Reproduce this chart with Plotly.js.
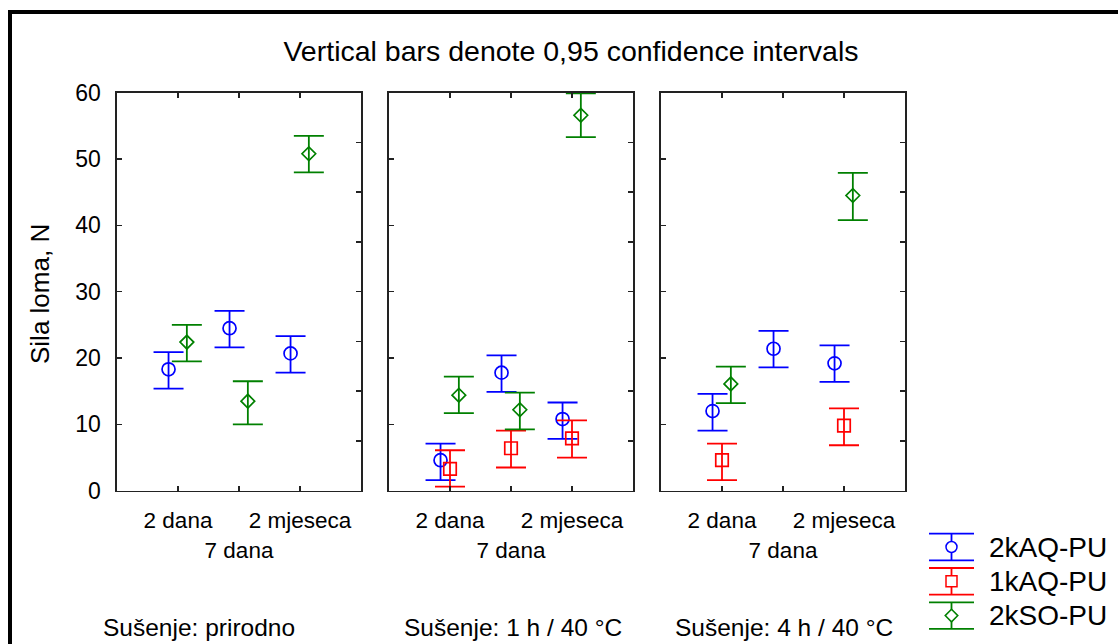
<!DOCTYPE html>
<html>
<head>
<meta charset="utf-8">
<script src="https://cdn.plot.ly/plotly-3.0.1.min.js"></script>
<style>html,body{margin:0;padding:0;background:#fff;}#chart{width:1118px;height:644px;}</style>
</head>
<body>
<div id="chart"></div>
<script>
// ---- data ----
const categories = ['2 dana', '7 dana', '2 mjeseca'];
const categoryTickText = ['2 dana', '<br>7 dana', '2 mjeseca'];
const panels = ['Sušenje: prirodno', 'Sušenje: 1 h / 40 °C', 'Sušenje: 4 h / 40 °C'];
const seriesNames = ['2kAQ-PU', '1kAQ-PU', '2kSO-PU'];
const yTicks = [0, 10, 20, 30, 40, 50, 60];

// values ordered panel by panel: [prirodno x3, 1h/40 x3, 4h/40 x3]
const aq2Mean = [18.3, 24.5, 20.7, 4.6, 17.8, 10.8, 12.0, 21.4, 19.2];
const aq2Low  = [15.4, 21.6, 17.8, 1.6, 14.9, 7.8, 9.05, 18.6, 16.4];
const aq2High = [20.9, 27.1, 23.3, 7.1, 20.4, 13.3, 14.6, 24.1, 21.9];

const aq1Mean = [null, null, null, 3.3, 6.4, 7.9, 4.6, null, 9.8];
const aq1Low  = [null, null, null, 0.6, 3.5, 5.0, 1.6, null, 6.85];
const aq1High = [null, null, null, 6.1, 9.05, 10.6, 7.1, null, 12.4];

const soMean = [22.4, 13.5, 50.8, 14.4, 12.2, 56.6, 16.1, null, 44.5];
const soLow  = [19.5, 10.0, 48.0, 11.7, 9.25, 53.3, 13.2, null, 40.8];
const soHigh = [25.0, 16.5, 53.5, 17.2, 14.8, 59.9, 18.7, null, 47.9];

// ---- styling ----
const W = 1118, H = 644;
const px = x => x / W;
const py = y => 1 - y / H;
const FONT = '"Liberation Sans", Arial, sans-serif';
const colors = ['rgb(0,0,255)', 'rgb(255,0,0)', 'rgb(0,128,0)'];
const symbols = ['circle-open', 'square-open', 'diamond-open'];
const msizes = [13, 12.5, 10.5];
const offsets = [-0.155, 0, 0.145];
const seriesData = [
  [aq2Mean, aq2Low, aq2High],
  [aq1Mean, aq1Low, aq1High],
  [soMean, soLow, soHigh]
];
const panelPx = [[117, 361], [389, 633], [661, 905]];
const yDom = [py(490.7), py(92.7)];

const traces = [];
panels.forEach((pname, p) => {
  const xa = 'x' + (p ? p + 1 : '');
  const ya = 'y' + (p ? p + 1 : '');
  seriesData.forEach((sd, s) => {
    const m = sd[0].slice(3 * p, 3 * p + 3);
    const lo = sd[1].slice(3 * p, 3 * p + 3);
    const hi = sd[2].slice(3 * p, 3 * p + 3);
    traces.push({
      type: 'scatter', mode: 'markers',
      name: seriesNames[s], showlegend: false,
      x: categories.map((c, i) => i + 1 + offsets[s]),
      y: m,
      xaxis: xa, yaxis: ya,
      marker: { symbol: symbols[s], size: msizes[s], color: colors[s], line: { color: colors[s], width: 1.7 } },
      error_y: {
        type: 'data', symmetric: false,
        array: m.map((v, i) => v == null ? null : hi[i] - v),
        arrayminus: m.map((v, i) => v == null ? null : v - lo[i]),
        color: colors[s], thickness: 1.8, width: 15
      },
      hovertemplate: seriesNames[s] + ' %{y}<extra></extra>'
    });
  });
  // carrier for right-side tick axis
  traces.push({ type: 'scatter', x: [], y: [], xaxis: xa, yaxis: 'y' + (p + 4), showlegend: false, hoverinfo: 'skip' });
});

const layout = {
  width: W, height: H,
  margin: { l: 0, r: 0, t: 0, b: 0 },
  paper_bgcolor: '#fff', plot_bgcolor: '#fff',
  font: { family: FONT, color: '#000', size: 22 },
  showlegend: false,
  title: { text: 'Vertical bars denote 0,95 confidence intervals', font: { size: 28.5, family: FONT, color: '#000' },
           x: px(571), xanchor: 'center', y: py(51), yanchor: 'middle', xref: 'paper', yref: 'paper' },
  annotations: [],
  shapes: []
};

panels.forEach((pname, p) => {
  const k = p ? p + 1 : '';
  layout['xaxis' + k] = {
    domain: [px(panelPx[p][0]), px(panelPx[p][1])],
    anchor: 'y' + k,
    range: [0, 4], tickmode: 'array', tickvals: [1, 2, 3], ticktext: categoryTickText,
    tickangle: 0,
    ticks: 'inside', ticklen: 5, tickwidth: 1.5, tickcolor: '#222',
    showline: true, linecolor: '#222', linewidth: 1.6, mirror: 'ticks',
    showgrid: false, zeroline: false, fixedrange: true,
    tickfont: { size: 22.5, family: FONT, color: '#000' },
    ticklabelstandoff: 9
  };
  layout['yaxis' + k] = {
    domain: yDom, anchor: 'x' + k,
    range: [0, 60], tickmode: 'array', tickvals: yTicks,
    showticklabels: p === 0,
    ticks: 'inside', ticklen: 5, tickwidth: 1.5, tickcolor: '#222',
    showline: true, linecolor: '#222', linewidth: 1.6, mirror: true,
    showgrid: false, zeroline: false, fixedrange: true,
    tickfont: { size: 23, family: FONT, color: '#000' },
    ticklabelstandoff: 10
  };
  layout['yaxis' + (p + 4)] = {
    domain: yDom, anchor: 'x' + k, overlaying: 'y' + k, side: 'right',
    range: [0, 8], tickmode: 'linear', tick0: 0, dtick: 1,
    showticklabels: false, ticks: 'inside', ticklen: 5, tickwidth: 1.5, tickcolor: '#222',
    showline: false, showgrid: false, zeroline: false, fixedrange: true
  };
});

// panel subtitles
const subtitleX = [199, 513, 784];
panels.forEach((pname, p) => {
  layout.annotations.push({
    text: pname, xref: 'paper', yref: 'paper', x: px(subtitleX[p]), y: py(627),
    xanchor: 'center', yanchor: 'middle', showarrow: false,
    font: { size: 24.5, family: FONT, color: '#000' }
  });
});

// y axis title
layout.annotations.push({
  text: 'Sila loma, N', xref: 'paper', yref: 'paper', x: px(40), y: py(294),
  xanchor: 'center', yanchor: 'middle', textangle: -90, showarrow: false,
  font: { size: 26, family: FONT, color: '#000' }
});

// outer frame (top and left)
layout.shapes.push({ type: 'line', xref: 'paper', yref: 'paper', x0: px(8), x1: 1, y0: py(12), y1: py(12), line: { color: '#000', width: 4 } });
layout.shapes.push({ type: 'line', xref: 'paper', yref: 'paper', x0: px(10), x1: px(10), y0: py(10), y1: 0, line: { color: '#000', width: 4 } });

// legend (error-bar glyph + marker + text)
seriesNames.forEach((nm, i) => {
  const yc = 547 + i * 34.3;
  const c = colors[i];
  const L = { color: c, width: 1.8 };
  const xl = 929, xr = 974, xm = 951.5, half = 13.3, r = 5.5;
  layout.shapes.push({ type: 'line', xref: 'paper', yref: 'paper', x0: px(xl), x1: px(xr), y0: py(yc - half), y1: py(yc - half), line: L });
  layout.shapes.push({ type: 'line', xref: 'paper', yref: 'paper', x0: px(xl), x1: px(xr), y0: py(yc + half), y1: py(yc + half), line: L });
  layout.shapes.push({ type: 'line', xref: 'paper', yref: 'paper', x0: px(xm), x1: px(xm), y0: py(yc - half), y1: py(yc - r), line: L });
  layout.shapes.push({ type: 'line', xref: 'paper', yref: 'paper', x0: px(xm), x1: px(xm), y0: py(yc + r), y1: py(yc + half), line: L });
  const ML = { color: c, width: 1.5 };
  if (i === 0) {
    layout.shapes.push({ type: 'circle', xref: 'paper', yref: 'paper', x0: px(xm - r), x1: px(xm + r), y0: py(yc + r), y1: py(yc - r), line: ML, fillcolor: 'rgba(0,0,0,0)' });
  } else if (i === 1) {
    layout.shapes.push({ type: 'rect', xref: 'paper', yref: 'paper', x0: px(xm - r), x1: px(xm + r), y0: py(yc + r), y1: py(yc - r), line: ML, fillcolor: 'rgba(0,0,0,0)' });
  } else {
    const d = r + 0.8;
    layout.shapes.push({ type: 'path', xref: 'paper', yref: 'paper',
      path: 'M' + px(xm) + ',' + py(yc - d) + ' L' + px(xm + d) + ',' + py(yc) + ' L' + px(xm) + ',' + py(yc + d) + ' L' + px(xm - d) + ',' + py(yc) + ' Z',
      line: ML, fillcolor: 'rgba(0,0,0,0)' });
  }
  layout.annotations.push({
    text: nm, xref: 'paper', yref: 'paper', x: px(987), y: py(yc),
    xanchor: 'left', yanchor: 'middle', showarrow: false,
    font: { size: 28, family: FONT, color: '#000' }
  });
});

Plotly.newPlot('chart', traces, layout, { displayModeBar: false, staticPlot: true });
</script>
</body>
</html>
